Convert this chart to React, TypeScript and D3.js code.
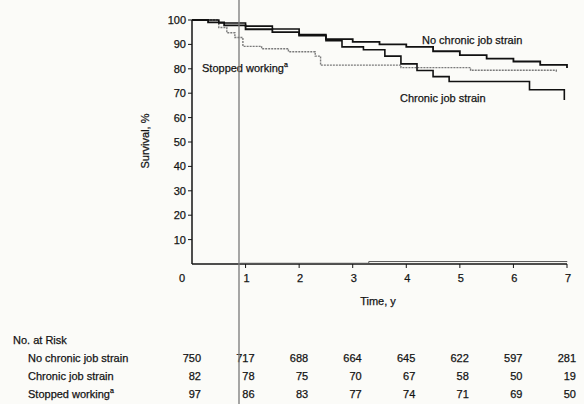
import React, { useEffect, useRef } from 'react';
import * as d3 from 'd3';

type Pt = [number, number];

// Kaplan-Meier curves: [time (y), survival %]
const noChronicStrain: Pt[] = [
  [0, 100], [0.3, 99], [0.6, 97.8], [1, 96.2], [1.5, 95], [2, 93.6], [2.5, 92.2],
  [3, 91], [3.5, 90], [4, 89], [4.5, 87.2], [5, 85.6], [5.5, 84.2], [6, 83],
  [6.5, 81.6], [7, 80.3]
];
const chronicStrain: Pt[] = [
  [0, 100], [0.5, 98.8], [1, 97.5], [1.5, 96.3], [2, 94], [2.5, 91.5], [2.8, 89],
  [3.2, 87.8], [3.6, 85.2], [3.9, 82], [4.2, 79.3], [4.5, 76.8], [4.8, 74.8],
  [6.3, 71.4], [6.95, 67.2]
];
const stoppedWorking: Pt[] = [
  [0, 100], [0.5, 96.9], [0.65, 94.8], [0.8, 92.8], [0.95, 89.2], [1.3, 88.2],
  [1.8, 87], [2.3, 85.2], [2.4, 81.5], [3.9, 80.5], [5.2, 79.4], [6.8, 78.6]
];
const bottomTrace: Pt[] = [[0.9, 0.3], [3.3, 1.0], [7, 0.8]];

const yTicks = [10, 20, 30, 40, 50, 60, 70, 80, 90, 100];
const xTicks = [0, 1, 2, 3, 4, 5, 6, 7];

const riskLabels = ['No chronic job strain', 'Chronic job strain', 'Stopped working'];
const riskNoChronic = [750, 717, 688, 664, 645, 622, 597, 281];
const riskChronic = [82, 78, 75, 70, 67, 58, 50, 19];
const riskStopped = [97, 86, 83, 77, 74, 71, 69, 50];

const FONT = '"Liberation Sans", Arial, sans-serif';
const FS = '11px';

const App: React.FC = () => {
  const svgRef = useRef<SVGSVGElement>(null);

  useEffect(() => {
    if (!svgRef.current) return;
    const svg = d3.select(svgRef.current);
    svg.selectAll('*').remove();

    const x = d3.scaleLinear().domain([0, 7]).range([192, 567]);
    const y = d3.scaleLinear().domain([0, 100]).range([264, 20]);

    svg.append('rect').attr('width', 584).attr('height', 404).attr('fill', '#fbfbf8');

    const line = d3.line<Pt>()
      .x(d => x(d[0]))
      .y(d => y(d[1]))
      .curve(d3.curveStepAfter);

    // axes
    const g = svg.append('g')
      .attr('font-family', FONT)
      .attr('fill', '#141414')
      .attr('stroke', '#141414')
      .attr('stroke-width', 0.25);
    g.append('line')
      .attr('x1', x(0)).attr('x2', x(0)).attr('y1', y(100)).attr('y2', y(0))
      .attr('stroke-width', 1.5);
    g.append('line')
      .attr('x1', x(0)).attr('x2', x(7)).attr('y1', y(0)).attr('y2', y(0))
      .attr('stroke-width', 1.5);

    yTicks.forEach(t => {
      g.append('line')
        .attr('x1', x(0) - 4).attr('x2', x(0)).attr('y1', y(t)).attr('y2', y(t))
        .attr('stroke-width', 1);
      g.append('text')
        .attr('x', x(0) - 6).attr('y', y(t))
        .attr('text-anchor', 'end').attr('dominant-baseline', 'central')
        .attr('font-size', FS)
        .text(t);
    });
    xTicks.forEach(t => {
      if (t > 0) {
        g.append('line')
          .attr('x1', x(t)).attr('x2', x(t)).attr('y1', y(0)).attr('y2', y(0) + 4)
          .attr('stroke-width', 1);
      }
      g.append('text')
        .attr('x', t === 0 ? x(t) - 10 : x(t) + 1).attr('y', 278)
        .attr('text-anchor', 'middle').attr('dominant-baseline', 'central')
        .attr('font-size', FS)
        .text(t);
    });

    g.append('text')
      .attr('transform', 'translate(145,141) rotate(-90)')
      .attr('text-anchor', 'middle').attr('dominant-baseline', 'central')
      .attr('font-size', FS)
      .text('Survival, %');
    g.append('text')
      .attr('x', 378).attr('y', 301)
      .attr('text-anchor', 'middle').attr('dominant-baseline', 'central')
      .attr('font-size', FS)
      .text('Time, y');

    // curves
    svg.append('path').datum(bottomTrace).attr('d', line)
      .attr('fill', 'none').attr('stroke', '#555').attr('stroke-width', 1);
    svg.append('path').datum(stoppedWorking).attr('d', line)
      .attr('fill', 'none').attr('stroke', '#7a7a7a').attr('stroke-width', 1.4)
      .attr('stroke-dasharray', '2,1');
    svg.append('path').datum(chronicStrain).attr('d', line)
      .attr('fill', 'none').attr('stroke', '#111').attr('stroke-width', 1.6);
    svg.append('path').datum(noChronicStrain).attr('d', line)
      .attr('fill', 'none').attr('stroke', '#111').attr('stroke-width', 1.8);

    // curve labels
    g.append('text').attr('x', 422).attr('y', 40).attr('dominant-baseline', 'central')
      .attr('font-size', FS).text('No chronic job strain');
    g.append('text').attr('x', 400).attr('y', 98).attr('dominant-baseline', 'central')
      .attr('font-size', FS).text('Chronic job strain');
    const sw = g.append('text').attr('x', 202).attr('y', 68).attr('dominant-baseline', 'central')
      .attr('font-size', FS);
    sw.append('tspan').text('Stopped working');
    sw.append('tspan').attr('font-size', '7px').attr('dy', -4).text('a');

    // number at risk table
    g.append('text').attr('x', 13).attr('y', 340).attr('dominant-baseline', 'central')
      .attr('font-size', FS).text('No. at Risk');
    const rows = [riskNoChronic, riskChronic, riskStopped];
    rows.forEach((vals, i) => {
      const ry = 358 + i * 18;
      const lab = g.append('text').attr('x', 28).attr('y', ry).attr('dominant-baseline', 'central')
        .attr('font-size', FS);
      lab.append('tspan').text(riskLabels[i]);
      if (i === 2) lab.append('tspan').attr('font-size', '7px').attr('dy', -4).text('a');
      vals.forEach((v, j) => {
        g.append('text')
          .attr('x', x(xTicks[j]) + 9).attr('y', ry)
          .attr('text-anchor', 'end').attr('dominant-baseline', 'central')
          .attr('font-size', FS)
          .text(v);
      });
    });

    // scanner streak running down the page
    svg.append('line')
      .attr('x1', 239).attr('x2', 239).attr('y1', 0).attr('y2', 404)
      .attr('stroke', '#777').attr('stroke-width', 1.3);
  }, []);

  return (
    <svg
      ref={svgRef}
      width={584}
      height={404}
      style={{ position: 'absolute', left: 0, top: 0 }}
    />
  );
};

export default App;
